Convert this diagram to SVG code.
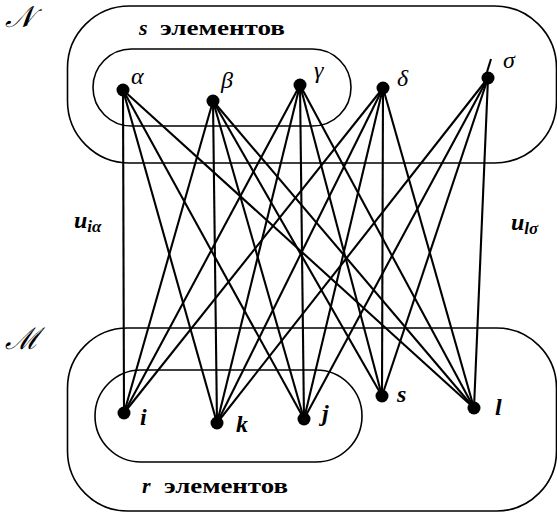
<svg xmlns="http://www.w3.org/2000/svg" width="557" height="513" viewBox="0 0 557 513">
<style>
.shape{fill:none;stroke:#000;stroke-width:1.6}
.edge{stroke:#000;stroke-width:2.1;fill:none}
.dot{fill:#000}
.m{font-family:"Liberation Serif","DejaVu Serif",serif;font-style:italic;font-size:24px;fill:#000}
.mb{font-family:"Liberation Serif","DejaVu Serif",serif;font-style:italic;font-weight:bold;font-size:24px;fill:#000}
.sub{font-size:17px}
.t{font-family:"Liberation Serif","DejaVu Serif",serif;font-weight:bold;font-size:22px;fill:#000}
.cal{font-family:"DejaVu Serif","Liberation Serif",serif;font-style:italic;font-size:30px;fill:#000}
</style>
<g id="sets">
  <rect class="shape" x="67.5" y="6" width="489" height="157" rx="62" ry="62"/>
  <rect class="shape" x="93" y="49" width="258" height="77" rx="38.5" ry="38.5"/>
  <rect class="shape" x="67.5" y="328" width="489" height="183" rx="60" ry="60"/>
  <rect class="shape" x="95" y="370" width="267" height="92" rx="46" ry="46"/>
</g>
<g id="connectors">
  <line class="edge" x1="123" y1="90" x2="124" y2="413"/>
  <line class="edge" x1="123" y1="90" x2="217" y2="423"/>
  <line class="edge" x1="123" y1="90" x2="304" y2="419"/>
  <line class="edge" x1="123" y1="90" x2="474" y2="408"/>
  <line class="edge" x1="213" y1="101" x2="124" y2="413"/>
  <line class="edge" x1="213" y1="101" x2="217" y2="423"/>
  <line class="edge" x1="213" y1="101" x2="304" y2="419"/>
  <line class="edge" x1="213" y1="101" x2="382" y2="396"/>
  <line class="edge" x1="213" y1="101" x2="474" y2="408"/>
  <line class="edge" x1="300" y1="85" x2="124" y2="413"/>
  <line class="edge" x1="300" y1="85" x2="217" y2="423"/>
  <line class="edge" x1="300" y1="85" x2="304" y2="419"/>
  <line class="edge" x1="300" y1="85" x2="382" y2="396"/>
  <line class="edge" x1="300" y1="85" x2="474" y2="408"/>
  <line class="edge" x1="383" y1="88" x2="124" y2="413"/>
  <line class="edge" x1="383" y1="88" x2="217" y2="423"/>
  <line class="edge" x1="383" y1="88" x2="304" y2="419"/>
  <line class="edge" x1="383" y1="88" x2="382" y2="396"/>
  <line class="edge" x1="383" y1="88" x2="474" y2="408"/>
  <line class="edge" x1="488" y1="78" x2="217" y2="423"/>
  <line class="edge" x1="488" y1="78" x2="304" y2="419"/>
  <line class="edge" x1="488" y1="78" x2="382" y2="396"/>
  <line class="edge" x1="488" y1="78" x2="474" y2="408"/>
  <line class="edge" x1="487" y1="72" x2="491" y2="59" stroke-width="1.5"/>
</g>
<g id="alpha"><circle class="dot" cx="123" cy="90" r="6.5"/><text class="m" x="131" y="84">α</text></g>
<g id="beta"><circle class="dot" cx="213" cy="101" r="6.5"/><text class="m" x="221" y="88">β</text></g>
<g id="gamma"><circle class="dot" cx="300" cy="85" r="6.5"/><text class="m" x="314" y="78">γ</text></g>
<g id="delta"><circle class="dot" cx="383" cy="88" r="6.5"/><text class="m" x="397" y="86">δ</text></g>
<g id="sigma"><circle class="dot" cx="488" cy="78" r="6.5"/><text class="m" x="503" y="68">σ</text></g>
<g id="i"><circle class="dot" cx="124" cy="413" r="6.5"/><text class="mb" x="140" y="425">i</text></g>
<g id="k"><circle class="dot" cx="217" cy="423" r="6.5"/><text class="mb" x="236" y="432">k</text></g>
<g id="j"><circle class="dot" cx="304" cy="419" r="6.5"/><text class="mb" x="322" y="421">j</text></g>
<g id="s"><circle class="dot" cx="382" cy="396" r="6.5"/><text class="mb" x="397" y="402">s</text></g>
<g id="l"><circle class="dot" cx="474" cy="408" r="6.5"/><text class="mb" x="495" y="415">l</text></g>
<g id="labels">
  <text class="cal" x="5" y="27">𝒩</text>
  <text class="cal" x="5" y="349">ℳ</text>
  <text class="t" x="139" y="35" font-style="italic">s</text>
  <text class="t" x="160" y="35" textLength="125" lengthAdjust="spacingAndGlyphs">элементов</text>
  <text class="t" x="142" y="493" font-style="italic">r</text>
  <text class="t" x="164" y="493" textLength="124" lengthAdjust="spacingAndGlyphs">элементов</text>
  <text class="mb" x="74" y="228">u<tspan class="sub" dy="4">iα</tspan></text>
  <text class="mb" x="511" y="230">u<tspan class="sub" dy="4">lσ</tspan></text>
</g>
</svg>
